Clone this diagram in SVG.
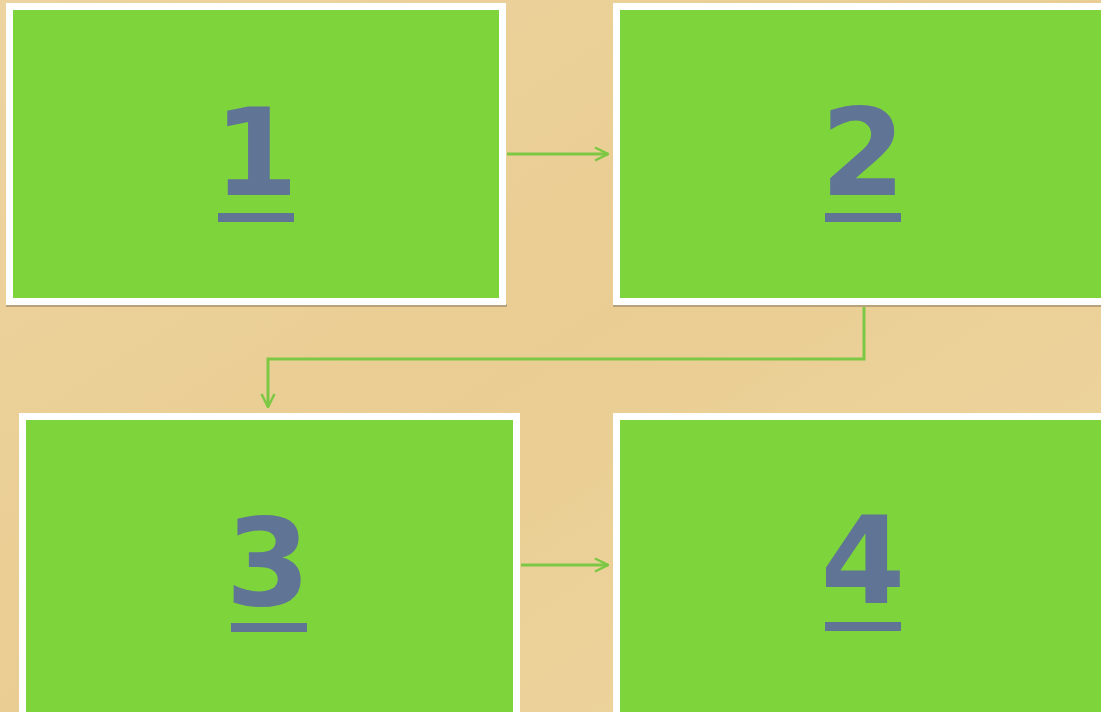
<svg xmlns="http://www.w3.org/2000/svg" width="1101" height="712" viewBox="0 0 1101 712">
<defs>
<style>
.box{fill:#7ed43b;stroke:#ffffff;stroke-width:7}
.sh{fill:#b8a27a}
.num{font-family:"DejaVu Sans",sans-serif;font-weight:bold;font-size:122px;fill:#607596;text-anchor:middle}
.ul{fill:#607596}
.con{fill:none;stroke:#7cc845;stroke-width:3}
</style>
<marker id="ah" viewBox="0 0 16 16" refX="15" refY="8" markerWidth="16" markerHeight="16" markerUnits="userSpaceOnUse" orient="auto">
<path d="M2,1.5 L15,8 L2,14.5" fill="none" stroke="#7cc845" stroke-width="2.5"/>
</marker>
<linearGradient id="bg" x1="0" y1="0" x2="1" y2="1">
<stop offset="0" stop-color="#edd39f"/>
<stop offset="0.5" stop-color="#e9cd92"/>
<stop offset="1" stop-color="#efd6a2"/>
</linearGradient>
</defs>
<rect width="1101" height="712" fill="url(#bg)"/>
<g id="connectors">
<path class="con" d="M507,154 H608" marker-end="url(#ah)"/>
<path class="con" d="M864,307 V359 H268 V407" marker-end="url(#ah)"/>
<path class="con" d="M521,565 H608" marker-end="url(#ah)"/>
</g>
<g id="node1">
<rect class="sh" x="6" y="304" width="501" height="3"/>
<rect class="box" x="9.5" y="6.5" width="493" height="295"/>
<text class="num" x="256" y="195">1</text>
<rect class="ul" x="218" y="213" width="76" height="9"/>
</g>
<g id="node2">
<rect class="sh" x="613" y="304" width="500" height="3"/>
<rect class="box" x="616.5" y="6.5" width="500" height="295"/>
<text class="num" x="863" y="195">2</text>
<rect class="ul" x="825" y="213" width="76" height="9"/>
</g>
<g id="node3">
<rect class="box" x="22.5" y="416.5" width="494" height="300"/>
<text class="num" x="268" y="605">3</text>
<rect class="ul" x="231" y="623" width="76" height="9"/>
</g>
<g id="node4">
<rect class="box" x="616.5" y="416.5" width="500" height="300"/>
<text class="num" x="863" y="603">4</text>
<rect class="ul" x="825" y="622" width="76" height="9"/>
</g>
</svg>
